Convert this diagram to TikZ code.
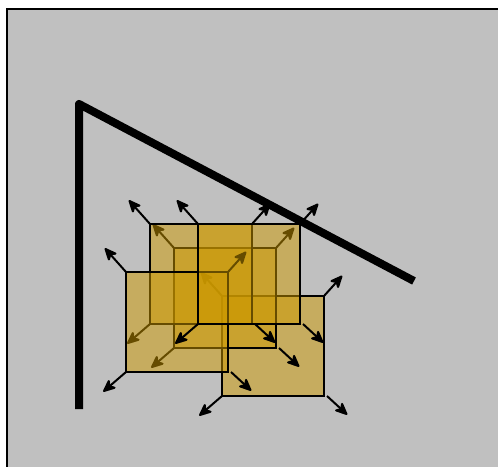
\documentclass[tikz,border=0pt]{standalone}
\usetikzlibrary{arrows.meta}
\definecolor{bggray}{RGB}{192,192,192}
\definecolor{gold}{RGB}{204,153,0}
\tikzset{
  x=1pt,y=-1pt,
  goldbox/.style={draw=black,line width=2pt,fill=gold,fill opacity=0.5,draw opacity=1},
  outarrow/.style={draw=black,line width=2pt,-{Stealth[length=15pt,width=13pt,inset=4pt,round=false]},shorten >=-1pt},
  frame/.style={draw=black,line width=2pt,fill=bggray},
  wall/.style={draw=black,line width=8pt,line join=round}
}
\newcommand{\goldpanel}[2]{%
  \begin{scope}[shift={(#1,#2)}]
    \path[goldbox] (0,0) rectangle (102,100);
    \coordinate (tl) at (0,0);
    \coordinate (tr) at (102,0);
    \coordinate (bl) at (0,100);
    \coordinate (br) at (105,100);
    \coordinate (tlx) at (-20.5,-23);
    \coordinate (trx) at (119.5,-19.5);
    \coordinate (blx) at (-22,119);
    \coordinate (brx) at (124.5,118);
    \draw[outarrow] (tl) -- (tlx);
    \draw[outarrow] (tr) -- (trx);
    \draw[outarrow] (bl) -- (blx);
    \draw[outarrow] (br) -- (brx);
  \end{scope}}
\begin{document}
\begin{tikzpicture}
  \useasboundingbox (0,0) rectangle (498,466);
  \path[fill=white] (0,0) rectangle (498,466);
  \path[frame] (7,9) rectangle (510,480);
  \goldpanel{222}{296}
  \goldpanel{174}{248}
  \goldpanel{150}{224}
  \goldpanel{126}{272}
  \goldpanel{198}{224}
  \draw[wall] (79,409) -- (79,104) -- (414,281);
\end{tikzpicture}
\end{document}
